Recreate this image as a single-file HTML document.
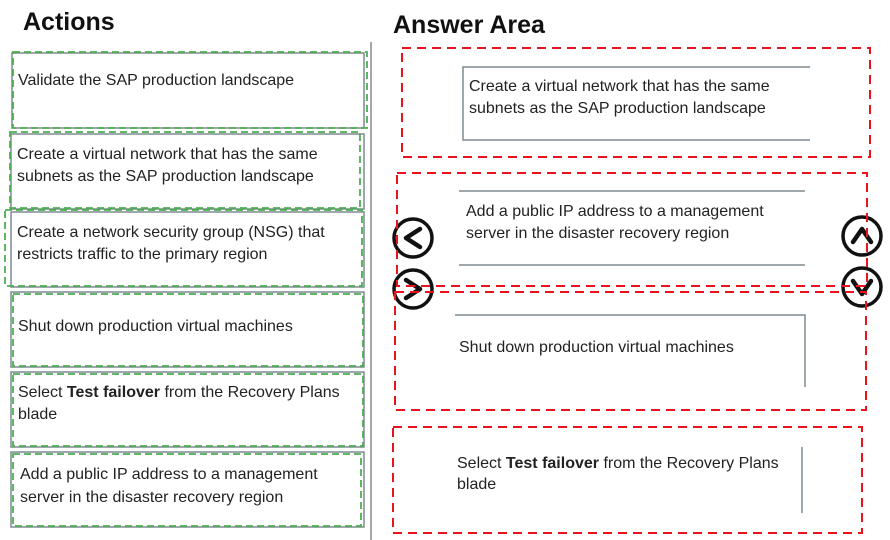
<!DOCTYPE html>
<html><head><meta charset="utf-8"><style>
html,body{margin:0;padding:0;background:#fff;}
svg{display:block;font-family:"Liberation Sans",sans-serif;}
</style></head><body>
<svg width="890" height="540" viewBox="0 0 890 540" xmlns="http://www.w3.org/2000/svg">
<rect width="890" height="540" fill="#fff"/>
<text x="23" y="30" font-size="25" font-weight="bold" fill="#111">Actions</text>
<text x="393" y="33" font-size="25" font-weight="bold" fill="#111">Answer Area</text>
<line x1="371" y1="42" x2="371" y2="540" stroke="#888" stroke-width="1.5"/>
<g fill="none" stroke="#7f8a90" stroke-width="1.5">
<rect x="12" y="53" width="352" height="75"/>
<rect x="11" y="134" width="353" height="75"/>
<rect x="11" y="212" width="353" height="75"/>
<rect x="11" y="292" width="353" height="75"/>
<rect x="11" y="372" width="353" height="75"/>
<rect x="11" y="452" width="353" height="75"/>
</g>
<g fill="none" stroke="#4caf50" stroke-width="1.8" stroke-dasharray="7,4">
<rect x="13" y="52" width="354" height="76"/>
<rect x="10" y="132" width="350" height="76"/>
<rect x="5" y="210" width="357" height="76"/>
<rect x="13" y="294" width="350" height="72"/>
<rect x="13" y="374" width="350" height="72"/>
<rect x="13" y="454" width="348" height="72"/>
</g>
<g font-size="16" fill="#222">
<text x="18" y="85">Validate the SAP production landscape</text>
<text x="17" y="159">Create a virtual network that has the same</text>
<text x="17" y="181">subnets as the SAP production landscape</text>
<text x="17" y="237">Create a network security group (NSG) that</text>
<text x="17" y="259">restricts traffic to the primary region</text>
<text x="18" y="331">Shut down production virtual machines</text>
<text x="18" y="397">Select <tspan font-weight="bold">Test failover</tspan> from the Recovery Plans</text>
<text x="18" y="419">blade</text>
<text x="20" y="479">Add a public IP address to a management</text>
<text x="20" y="502">server in the disaster recovery region</text>
</g>
<g stroke="#7f8a90" stroke-width="1.5" fill="none">
<polyline points="810,67 463,67 463,140 810,140"/>
<line x1="459" y1="191" x2="805" y2="191"/>
<line x1="459" y1="265" x2="805" y2="265"/>
<polyline points="455,315 805,315 805,387"/>
<line x1="802" y1="447" x2="802" y2="513"/>
</g>
<g font-size="16" fill="#222">
<text x="469" y="91">Create a virtual network that has the same</text>
<text x="469" y="113">subnets as the SAP production landscape</text>
<text x="466" y="216">Add a public IP address to a management</text>
<text x="466" y="238">server in the disaster recovery region</text>
<text x="459" y="352">Shut down production virtual machines</text>
<text x="457" y="468">Select <tspan font-weight="bold">Test failover</tspan> from the Recovery Plans</text>
<text x="457" y="489">blade</text>
</g>
<g fill="#fff" stroke="#111" stroke-width="3.5">
<circle cx="413" cy="238" r="19"/>
<circle cx="413" cy="289" r="19"/>
<circle cx="862" cy="236" r="19"/>
<circle cx="862" cy="287" r="19"/>
</g>
<g fill="none" stroke="#111" stroke-width="4.5" stroke-linecap="round" stroke-linejoin="round">
<polyline points="420,229 406,238 420,247"/>
<polyline points="406,280 420,289 406,298"/>
<polyline points="853,242 862,229 871,242"/>
<polyline points="853,281 862,294 871,281"/>
</g>
<g fill="none" stroke="#e8141c" stroke-width="2" stroke-dasharray="9,6">
<rect x="402" y="48" width="468" height="109"/>
<rect x="397" y="173" width="470" height="113"/>
<rect x="395" y="292" width="471" height="118"/>
<rect x="393" y="427" width="469" height="106"/>
</g>
</svg>
</body></html>
